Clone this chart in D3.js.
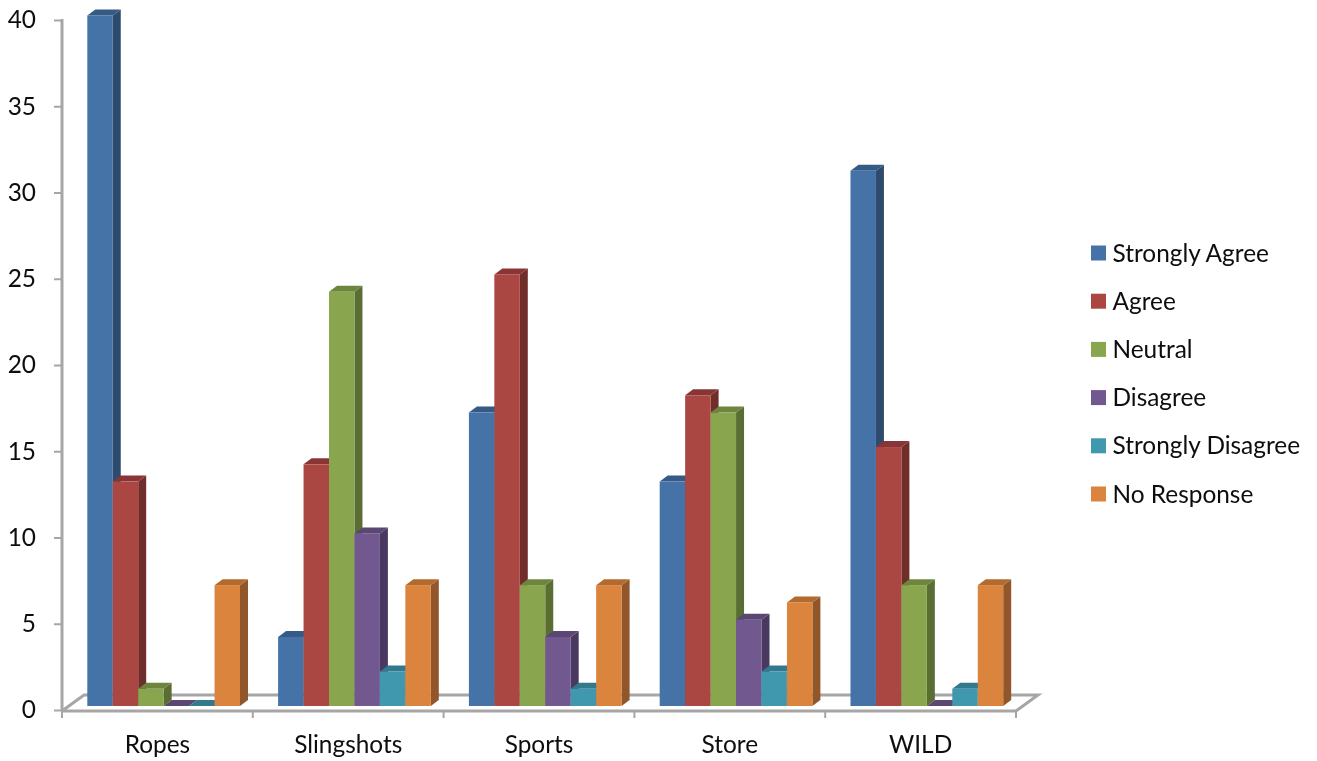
<!DOCTYPE html>
<html><head><meta charset="utf-8">
<script src="https://cdn.jsdelivr.net/npm/d3@7"></script>
<style>
html,body{margin:0;padding:0;background:#fff}
svg{display:block}
text{font-family:Lato,"Open Sans",sans-serif;fill:#0b0b0b}
</style></head><body>
<svg id="c" width="1317" height="761"></svg>
<script>
const categories=["Ropes","Slingshots","Sports","Store","WILD"];
const seriesNames=["Strongly Agree","Agree","Neutral","Disagree","Strongly Disagree","No Response"];
const stronglyAgree=[40,4,17,13,31];
const agree=[13,14,25,18,15];
const neutral=[1,24,7,17,7];
const disagree=[0,10,4,5,0];
const stronglyDisagree=[0,2,1,2,1];
const noResponse=[7,7,7,6,7];
const seriesValues=[stronglyAgree,agree,neutral,disagree,stronglyDisagree,noResponse];
const frontColors=["#4572A7","#AA4643","#89A54E","#71588F","#4198AF","#DB843D"];
const sideColors=["#2F4B6E","#6F2D2B","#5A6D33","#49395F","#296475","#915729"];
const topColors=["#365A86","#8A3634","#6E853D","#5A4672","#31798E","#B26A2E"];
const yTicks=[0,5,10,15,20,25,30,35,40];

const svg=d3.select("#c");
const defs=svg.append("defs");
defs.append("filter").attr("id","soft").attr("x","-2%").attr("y","-2%").attr("width","104%").attr("height","104%")
  .append("feGaussianBlur").attr("stdDeviation",0.5);
const root=svg.append("g").attr("filter","url(#soft)");
const FONT_SIZE=24.4;
const axisColor="#a6a6a6";
const X0=62,X1=1016,AXIS_BASE=710,AXIS_TOP=20,DX=8,DY=6;
const yAxisScale=d3.scaleLinear().domain([0,40]).range([AXIS_BASE,AXIS_TOP]);
const yBar=d3.scaleLinear().domain([0,40]).range([706,15.5]);
const xGroup=d3.scaleBand().domain(categories).range([X0,X1]);
const xSeries=d3.scaleBand().domain(seriesNames).range([25.3,25.3+25.45*6]);

// floor
const floor=root.append("g").attr("fill","none").attr("stroke",axisColor).attr("stroke-width",3);
floor.append("path").attr("d",d3.line()([[X0,711],[84,695],[1038,695],[X1,711]]));
floor.append("path").attr("d",d3.line()([[X0,711],[X1,711]]));

// y axis
const yG=root.append("g").attr("transform",`translate(${X0},0)`)
  .call(d3.axisLeft(yAxisScale).tickValues(yTicks).tickSize(8).tickPadding(18));
yG.select(".domain").attr("stroke",axisColor).attr("stroke-width",3).attr("d",`M0,${AXIS_TOP-1}V${AXIS_BASE+1}`);
yG.selectAll(".tick line").attr("stroke",axisColor).attr("stroke-width",2);
yG.selectAll("text").attr("font-size",FONT_SIZE).style("font-family",'Lato,"Open Sans",sans-serif').attr("fill","#0b0b0b");

// x axis
const xG=root.append("g").attr("transform",`translate(0,711)`)
  .call(d3.axisBottom(xGroup).tickSize(0).tickPadding(25));
xG.select(".domain").remove();
xG.selectAll(".tick line").remove();
xG.selectAll("text").attr("font-size",FONT_SIZE).style("font-family",'Lato,"Open Sans",sans-serif').attr("fill","#0b0b0b");
root.append("g").selectAll("line").data(categories.map((c,i)=>i).concat(categories.length)).join("line")
  .attr("x1",i=>i<categories.length?xGroup(categories[i]):X1)
  .attr("x2",i=>i<categories.length?xGroup(categories[i]):X1)
  .attr("y1",711).attr("y2",718).attr("stroke",axisColor).attr("stroke-width",2);

// bars
const bars=root.append("g");
const w=xSeries.bandwidth();
categories.forEach((cat,ci)=>{
  seriesNames.forEach((s,si)=>{
    const v=seriesValues[si][ci];
    const x=xGroup(cat)+xSeries(s), yT=yBar(v), yB=yBar(0);
    const g=bars.append("g").datum({category:cat,series:s,value:v});
    g.append("path").attr("fill",sideColors[si])
      .attr("d",d3.line()([[x+w,yT],[x+w+DX,yT-DY],[x+w+DX,yB-DY],[x+w,yB]])+"Z");
    g.append("path").attr("fill",topColors[si])
      .attr("d",d3.line()([[x,yT],[x+DX,yT-DY],[x+w+DX,yT-DY],[x+w,yT]])+"Z");
    if(v>0) g.append("rect").attr("x",x).attr("y",yT).attr("width",w).attr("height",yB-yT).attr("fill",frontColors[si]);
  });
});

// legend
const legendY=d3.scalePoint().domain(seriesNames).range([253,494]);
const lg=root.append("g").selectAll("g").data(seriesNames).join("g")
  .attr("transform",d=>`translate(1091,${legendY(d)})`);
lg.append("rect").attr("y",-7.5).attr("width",15).attr("height",15).attr("fill",(d,i)=>frontColors[i]);
lg.append("text").attr("x",21.5).attr("dy","0.35em").attr("font-size",FONT_SIZE).text(d=>d);
</script>
</body></html>
